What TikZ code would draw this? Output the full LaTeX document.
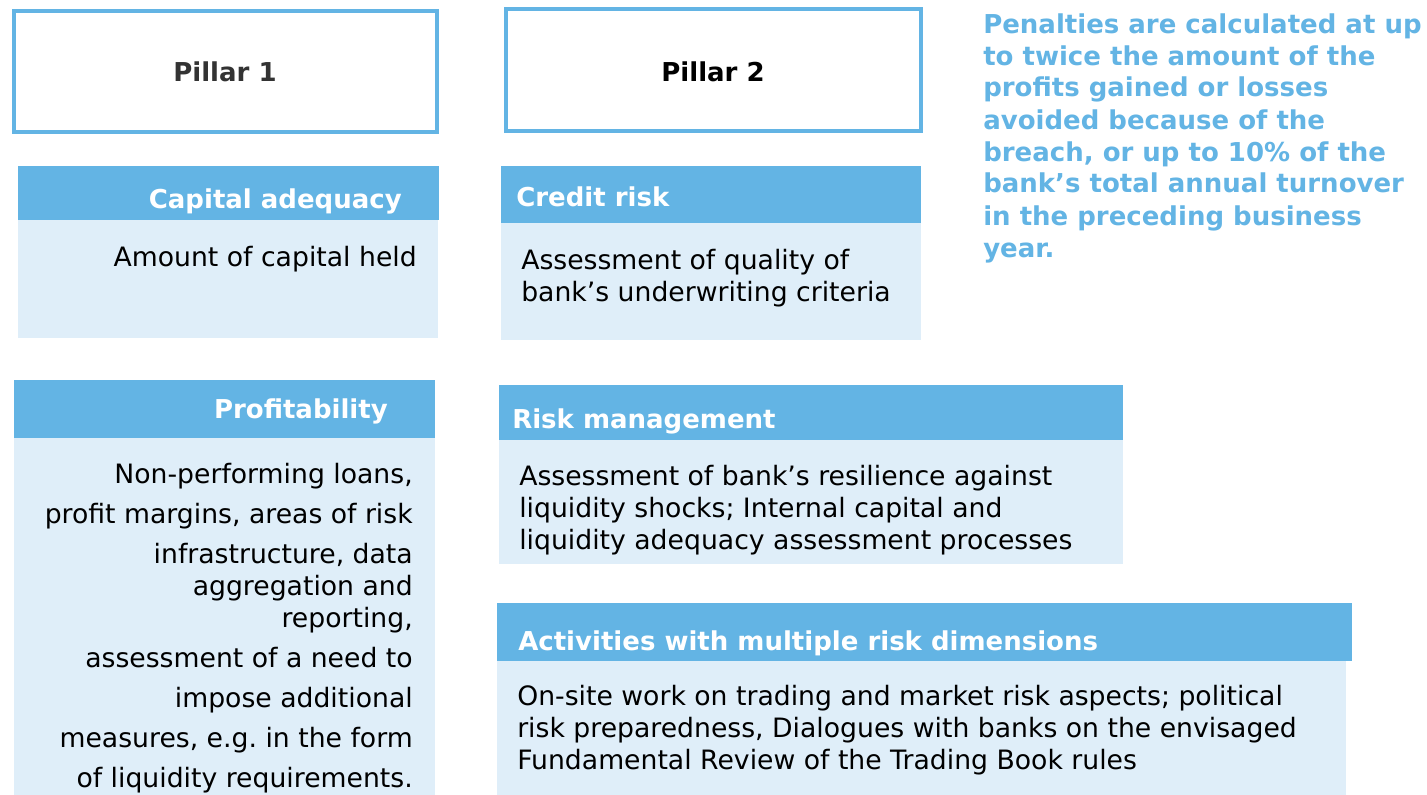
\documentclass[tikz,border=0pt]{standalone}
\usepackage{fontspec}
\setmainfont{DejaVu Sans}
\definecolor{pillarblue}{HTML}{63B4E4}
\definecolor{paleblue}{HTML}{DFEEF9}
\definecolor{pillargrey}{HTML}{333333}
\tikzset{
  head/.style={font=\bfseries\fontsize{19.5}{24}\selectfont,text=white,inner sep=0},
  body/.style={font=\fontsize{20}{24}\selectfont,inner sep=0},
}
\begin{document}
\begin{tikzpicture}[x=0.75pt,y=-0.75pt]
\useasboundingbox (0,0) rectangle (1427,795);
\draw[pillarblue,line width=3pt] (14,11) rectangle (437,132);
\draw[pillarblue,line width=3pt] (506,9) rectangle (921,131);
\node[head,text=pillargrey,anchor=base] (pone) at (225,82) {Pillar 1};
\node[head,text=black,anchor=base] (ptwo) at (713,82) {Pillar 2};
\fill[pillarblue] (18,166) rectangle (439,220);
\fill[paleblue] (18,220) rectangle (438,338);
\node[head,anchor=base east] (capital) at (402,208) {Capital adequacy};
\node[body,anchor=base east] (capitaltxt) at (417,266) {Amount of capital held};
\fill[pillarblue] (501,166) rectangle (921,223);
\fill[paleblue] (501,223) rectangle (921,340);
\node[head,anchor=base west] (credit) at (516,206) {Credit risk};
% multi-line texts are placed by the baseline of their last line
\node[body,anchor=base west,align=left] (credittxt) at (521,301)
  {Assessment of quality of\\bank’s underwriting criteria};
\fill[pillarblue] (14,380) rectangle (435,438);
\fill[paleblue] (14,438) rectangle (435,795);
\node[head,anchor=base east] (profit) at (388,418) {Profitability};
\node[body,anchor=base east,align=right] (profittxt) at (413,787)
  {Non-performing loans,\\[6pt] profit margins, areas of risk\\[6pt]
   infrastructure, data\\ aggregation and\\ reporting,\\[6pt]
   assessment of a need to\\[6pt] impose additional\\[6pt]
   measures, e.g.\ in the form\\[6pt] of liquidity requirements.};
\fill[pillarblue] (499,385) rectangle (1123,440);
\fill[paleblue] (499,440) rectangle (1123,564);
\node[head,anchor=base west] (riskmgmt) at (512,428) {Risk management};
\node[body,anchor=base west,align=left] (riskmgmttxt) at (519,549)
  {Assessment of bank’s resilience against\\liquidity shocks; Internal capital and\\liquidity adequacy assessment processes};
\fill[pillarblue] (497,603) rectangle (1352,661);
\fill[paleblue] (497,661) rectangle (1346,795);
\node[head,anchor=base west] (multi) at (518,650) {Activities with multiple risk dimensions};
\node[body,anchor=base west,align=left] (multitxt) at (517,769)
  {On-site work on trading and market risk aspects; political\\risk preparedness, Dialogues with banks on the envisaged\\Fundamental Review of the Trading Book rules};
\node[head,text=pillarblue,anchor=base west,align=left] (penalty) at (983,257)
  {Penalties are calculated at up\\to twice the amount of the\\profits gained or losses\\avoided because of the\\breach, or up to 10\% of the\\bank’s total annual turnover\\in the preceding business\\year.};
\end{tikzpicture}
\end{document}
